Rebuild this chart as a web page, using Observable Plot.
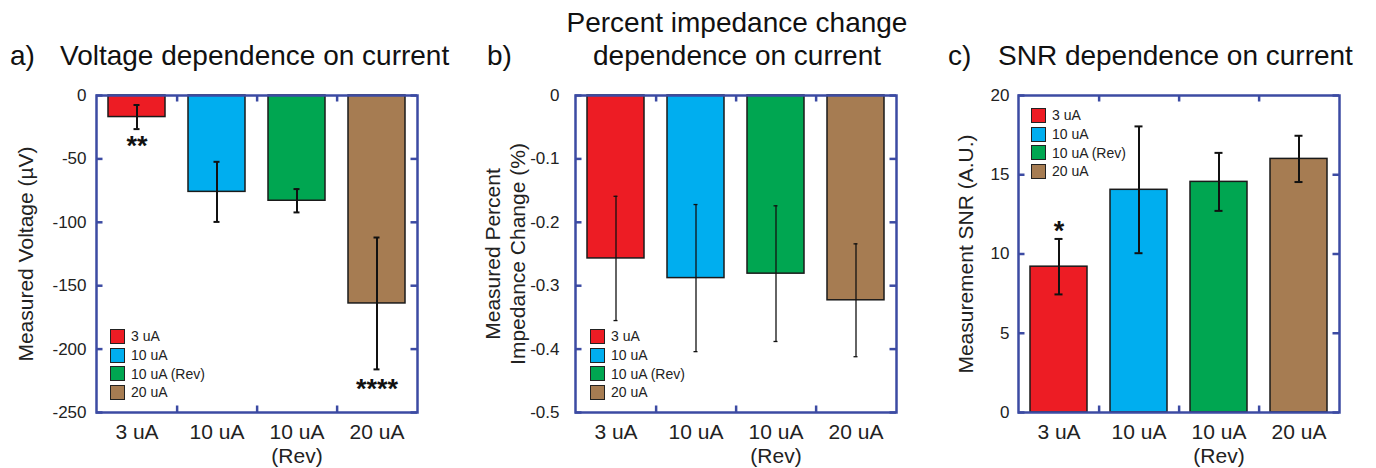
<!DOCTYPE html>
<html>
<head>
<meta charset="utf-8">
<script src="https://cdn.jsdelivr.net/npm/d3@7"></script>
<script src="https://cdn.jsdelivr.net/npm/@observablehq/plot@0.6"></script>
<style>
  body { margin: 0; background: #fff; font-family: "Liberation Sans", Arial, sans-serif; }
  #wrap { position: relative; width: 1376px; height: 468px; overflow: hidden; background: #fff; }
  .abs { position: absolute; white-space: nowrap; color: #111; }
  .title { font-size: 28px; line-height: 33px; }
  .legend { position: absolute; font-size: 14px; color: #222; }
  .legend .row { display: flex; align-items: center; height: 18.7px; }
  .legend .sw { width: 13px; height: 13px; border: 1.5px solid #222; margin-right: 6px; }
</style>
</head>
<body>
<div id="wrap"></div>
<script>
// ---------- data ----------
const categories = ["3 uA", "10 uA", "10 uA (Rev)", "20 uA"];
const colors = ["#ED1C24", "#00AEEF", "#00A651", "#A67C52"];

const voltageMean = [-17, -76, -83, -164];
const voltageErr  = [9.5, 23.7, 9.2, 52];
const voltageTicks = [0, -50, -100, -150, -200, -250];
const voltageStarCats = ["3 uA", "20 uA"];
const voltageStarY = [-35.5, -227];
const voltageStarText = ["**", "****"];

const impedanceMean = [-0.257, -0.288, -0.281, -0.323];
const impedanceErr  = [0.098, 0.116, 0.107, 0.089];
const impedanceTicks = [0, -0.1, -0.2, -0.3, -0.4, -0.5];

const snrMean = [9.2, 14.05, 14.55, 16.0];
const snrErr  = [1.75, 4.0, 1.83, 1.46];
const snrTicks = [0, 5, 10, 15, 20];
const snrStarCats = ["3 uA"];
const snrStarY = [11.8];
const snrStarText = ["*"];

// ---------- drawing ----------
const FONT = '"Liberation Sans", Arial, sans-serif';
const FRAME = "#3C4BA3";
const wrap = document.getElementById("wrap");

function addDiv(html, cls, style) {
  const d = document.createElement("div");
  d.className = cls;
  d.innerHTML = html;
  Object.assign(d.style, style);
  wrap.appendChild(d);
  return d;
}

function panel(o) {
  const rows = categories.map((c, i) => ({cat: c, v: o.mean[i], lo: o.mean[i] - o.err[i], hi: o.mean[i] + o.err[i]}));
  const stars = (o.starCats || []).map((c, i) => ({cat: c, y: o.starY[i], t: o.starText[i]}));
  const H = 468, MT = 95, MB = 56;
  const frameW = o.width - o.ml - o.mr;
  const frameH = H - MT - MB;
  const half = frameW / categories.length / 2;
  const T = 6.5;
  const tk = {stroke: FRAME, strokeWidth: 2.5};
  const svg = Plot.plot({
    width: o.width, height: H,
    marginLeft: o.ml, marginRight: o.mr, marginTop: MT, marginBottom: MB,
    style: {fontFamily: FONT, color: "#222", background: "transparent", overflow: "visible"},
    x: {domain: categories, paddingInner: 0.29, paddingOuter: 0.145, axis: null},
    y: {domain: o.domain, axis: null},
    color: {domain: categories, range: colors},
    marks: [
      Plot.barY(rows, {x: "cat", y: "v", fill: "cat", stroke: "#1a1a1a", strokeWidth: 1.5}),
      Plot.ruleX(rows, {x: "cat", y1: "lo", y2: "hi", stroke: "#111", strokeWidth: o.errW}),
      Plot.tickY(rows, {x: "cat", y: "lo", stroke: "#111", strokeWidth: o.errW, insetLeft: o.capInset, insetRight: o.capInset}),
      Plot.tickY(rows, {x: "cat", y: "hi", stroke: "#111", strokeWidth: o.errW, insetLeft: o.capInset, insetRight: o.capInset}),
      Plot.text(stars, {x: "cat", y: "y", text: "t", fontSize: 27, fontWeight: "bold", fill: "#111", dy: 6, letterSpacing: 2}),
      // inward tick marks on all four sides
      Plot.ruleY(o.ticks, {y: d => d, insetRight: frameW - T, ...tk}),
      Plot.ruleY(o.ticks, {y: d => d, insetLeft: frameW - T, ...tk}),
      Plot.ruleX(categories.slice(0, 3), {x: d => d, dx: half, insetTop: frameH - T, ...tk}),
      Plot.ruleX(categories.slice(0, 3), {x: d => d, dx: half, insetBottom: frameH - T, ...tk}),
      Plot.frame({stroke: FRAME, strokeWidth: 2.5}),
      Plot.axisY(o.ticks, {anchor: "left", tickSize: 0, tickPadding: o.tickPad, fontSize: 17, label: null, tickFormat: d => String(d), fill: "#222"}),
      Plot.axisX(categories, {anchor: "bottom", tickSize: 0, tickPadding: 9, fontSize: 21, lineHeight: 1.15, label: null, fill: "#222", tickFormat: d => d.replace(" (", "\n(")}),
      Plot.text([o.ylabel], {frameAnchor: "left", textAnchor: "middle", lineAnchor: "middle", rotate: -90, dx: o.ylabelDx, fontSize: 21, lineHeight: 1.2, fill: "#222"})
    ]
  });
  const holder = document.createElement("div");
  holder.style.position = "absolute";
  holder.style.left = o.left + "px";
  holder.style.top = "0px";
  holder.appendChild(svg);
  wrap.appendChild(holder);

  // legend
  addDiv(categories.map((c, i) =>
    `<div class="row"><div class="sw" style="background:${colors[i]}"></div><span>${c}</span></div>`).join(""),
    "legend", {left: o.legendX + "px", top: o.legendY + "px"});
}

panel({left: 0, width: 460, ml: 96, mr: 43, domain: [-250, 0], ticks: voltageTicks,
  mean: voltageMean, err: voltageErr, errW: 2, capInset: 25.5, tickPad: 10,
  starCats: voltageStarCats, starY: voltageStarY, starText: voltageStarText,
  ylabel: "Measured Voltage (µV)", ylabelDx: -72, legendX: 110, legendY: 327});

panel({left: 460, width: 470, ml: 115, mr: 34, domain: [-0.5, 0], ticks: impedanceTicks,
  mean: impedanceMean, err: impedanceErr, errW: 1.3, capInset: 26.5, tickPad: 16,
  ylabel: "Measured Percent\nImpedance Change (%)", ylabelDx: -71, legendX: 590, legendY: 327});

panel({left: 930, width: 446, ml: 88, mr: 37, domain: [0, 20], ticks: snrTicks,
  mean: snrMean, err: snrErr, errW: 2, capInset: 24.5, tickPad: 9,
  starCats: snrStarCats, starY: snrStarY, starText: snrStarText,
  ylabel: "Measurement SNR (A.U.)", ylabelDx: -53.5, legendX: 1031, legendY: 106});

// titles
addDiv("a)", "abs title", {left: "10px", top: "39px"});
addDiv("Voltage dependence on current", "abs title", {left: "60px", top: "39px"});
addDiv("b)", "abs title", {left: "487px", top: "39px"});
addDiv("Percent impedance change<br>dependence on current", "abs title", {left: "537px", width: "400px", top: "6px", textAlign: "center"});
addDiv("c)", "abs title", {left: "948px", top: "39px"});
addDiv("SNR dependence on current", "abs title", {left: "998px", top: "39px"});
</script>
</body>
</html>
